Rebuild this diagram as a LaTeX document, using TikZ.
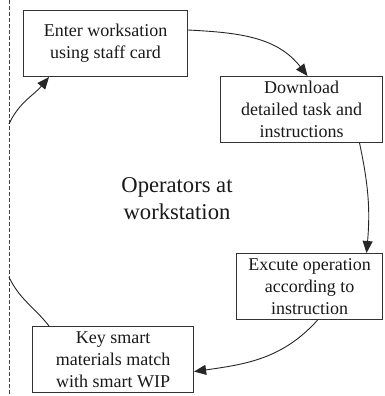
\documentclass[tikz,border=0pt]{standalone}
\usepackage{fontspec}
\setmainfont{Liberation Serif}
\usetikzlibrary{arrows.meta}
\begin{document}
\begin{tikzpicture}[x=1pt,y=-1pt,
  box/.style={draw=black!80,line width=1.1pt,inner sep=0pt,align=center,
    font=\fontsize{18}{22}\selectfont,anchor=north west,text=black!90},
  conn/.style={draw=black!85,line width=0.9pt},
  arr/.style={conn,-{Triangle[length=12pt,width=10pt]}},
  sep/.style={draw=black!75,line width=0.9pt,dash pattern=on 4pt off 2pt}]
\useasboundingbox (0,0) rectangle (384,396);
\coordinate (st) at (9,0);
\coordinate (sb) at (9,396);
\draw[sep] (st) -- (sb);
\node[box,minimum width=164pt,minimum height=66pt] (b1) at (23,10) {Enter worksation\\using staff card};
\node[box,minimum width=162pt,minimum height=66pt] (b2) at (220,76) {Download\\detailed task and\\instructions};
\node[box,minimum width=146pt,minimum height=66pt] (b3) at (236,253) {Excute operation\\according to\\instruction};
\node[box,minimum width=161pt,minimum height=66pt] (b4) at (32,326) {Key smart\\materials match\\with smart WIP};
\node[align=center,font=\fontsize{22.6}{27}\selectfont,text=black!90] (ctr) at (177,199) {Operators at\\workstation};
\coordinate (l1) at (9,277);
\coordinate (l2) at (9,124);
\draw[arr] ([yshift=-20pt]b1.north east) to[out=-3,in=128] ([xshift=6pt]b2.north);
\draw[arr] ([xshift=58pt]b2.south) to[out=-78,in=85] ([xshift=57pt]b3.north);
\draw[arr] ([xshift=8pt]b3.south) to[out=-132,in=8] ([yshift=-12pt]b4.east);
\draw[conn] ([xshift=17pt]b4.north west) to[out=128,in=-65] (l1);
\draw[arr] (l2) to[out=65,in=-130] ([xshift=26pt]b1.south west);
\end{tikzpicture}
\end{document}
